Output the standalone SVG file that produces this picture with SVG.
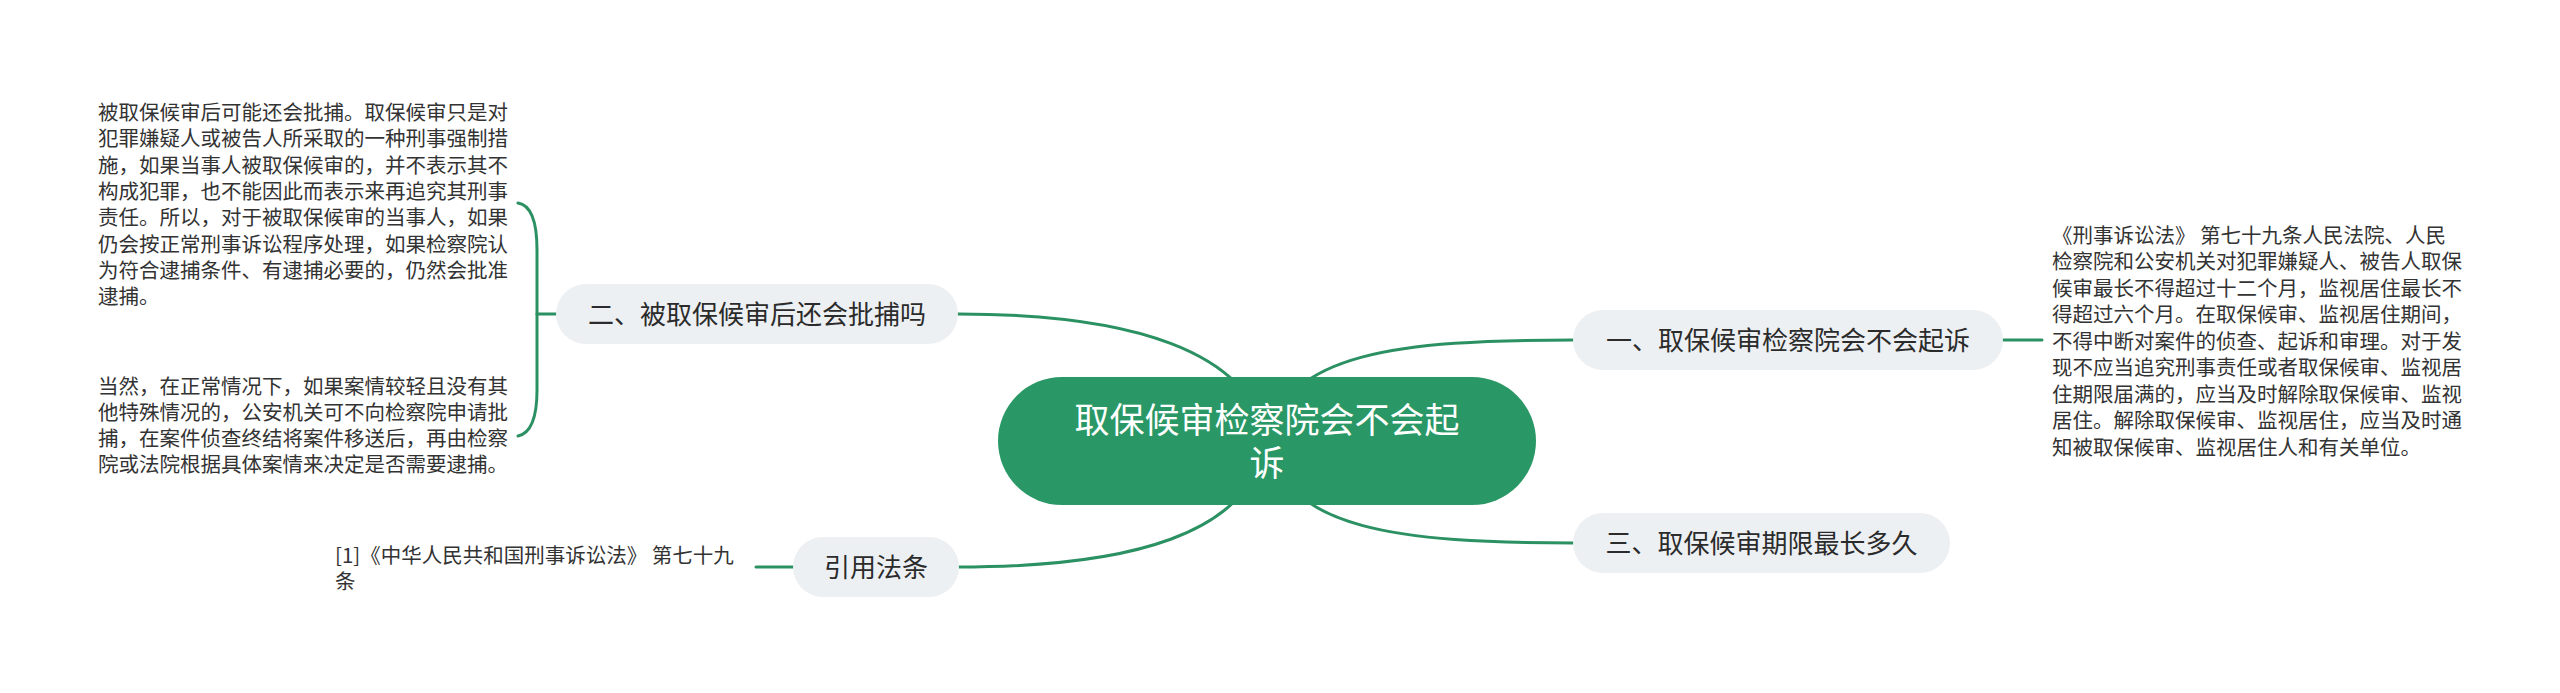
<svg xmlns="http://www.w3.org/2000/svg" width="2560" height="693" viewBox="0 0 2560 693">
<style>
.bg{fill:#ffffff}
.conn{fill:none;stroke:#2b9163;stroke-width:3;stroke-linecap:round}
.sub{fill:#edf0f3}
.subt{font-family:"Noto Sans CJK SC","Noto Sans",sans-serif;font-size:26px;fill:#2b2b2b;text-anchor:middle}
.body{font-family:"Noto Sans CJK SC","Noto Sans",sans-serif;font-size:20.5px;fill:#333333}
.root{fill:#2a9866}
.roott{font-family:"Noto Sans CJK SC","Noto Sans",sans-serif;font-size:35px;fill:#ffffff;text-anchor:middle}
</style>
<rect class="bg" x="0" y="0" width="2560" height="693"/>
<g id="connectors">
<path class="conn" d="M1267,441 C1250,350 1130,314 958,314"/>
<path class="conn" d="M1267,441 C1285,352 1400,340 1573,340"/>
<path class="conn" d="M1267,441 C1285,530 1400,543 1573,543"/>
<path class="conn" d="M1267,441 C1250,535 1130,567 958,567"/>
<path class="conn" d="M556,314 L537,314"/>
<path class="conn" d="M518,203 Q537,206 537,250 L537,390 Q537,432 518,436"/>
<path class="conn" d="M793,567 L756,567"/>
<path class="conn" d="M2003,340 L2042,340"/>
</g>
<g id="root">
<rect class="root" x="998" y="377" width="538" height="128" rx="64" ry="64"/>
<text class="roott"><tspan x="1267" y="432.5">取保候审检察院会不会起</tspan><tspan x="1267" y="475.5">诉</tspan></text>
</g>
<g id="node-2">
<rect class="sub" x="556" y="284" width="402" height="60" rx="30" ry="30"/>
<text class="subt" x="757" y="323.5">二、被取保候审后还会批捕吗</text>
</g>
<g id="node-2-text1">
<text class="body"><tspan x="98" y="120">被取保候审后可能还会批捕。取保候审只是对</tspan><tspan x="98" y="146">犯罪嫌疑人或被告人所采取的一种刑事强制措</tspan><tspan x="98" y="173">施，如果当事人被取保候审的，并不表示其不</tspan><tspan x="98" y="199">构成犯罪，也不能因此而表示来再追究其刑事</tspan><tspan x="98" y="225">责任。所以，对于被取保候审的当事人，如果</tspan><tspan x="98" y="252">仍会按正常刑事诉讼程序处理，如果检察院认</tspan><tspan x="98" y="278">为符合逮捕条件、有逮捕必要的，仍然会批准</tspan><tspan x="98" y="304">逮捕。</tspan></text>
</g>
<g id="node-2-text2">
<text class="body"><tspan x="98" y="394">当然，在正常情况下，如果案情较轻且没有其</tspan><tspan x="98" y="420">他特殊情况的，公安机关可不向检察院申请批</tspan><tspan x="98" y="446">捕，在案件侦查终结将案件移送后，再由检察</tspan><tspan x="98" y="472">院或法院根据具体案情来决定是否需要逮捕。</tspan></text>
</g>
<g id="node-ref">
<rect class="sub" x="793" y="537" width="166" height="60" rx="30" ry="30"/>
<text class="subt" x="876" y="576.5">引用法条</text>
</g>
<g id="node-ref-text">
<text class="body"><tspan x="335" y="562.5">[1]《中华人民共和国刑事诉讼法》 第七十九</tspan><tspan x="335" y="588.5">条</tspan></text>
</g>
<g id="node-1">
<rect class="sub" x="1573" y="310" width="430" height="60" rx="30" ry="30"/>
<text class="subt" x="1788" y="349.5">一、取保候审检察院会不会起诉</text>
</g>
<g id="node-1-text">
<text class="body"><tspan x="2052" y="242.5">《刑事诉讼法》 第七十九条人民法院、人民</tspan><tspan x="2052" y="269">检察院和公安机关对犯罪嫌疑人、被告人取保</tspan><tspan x="2052" y="295.5">候审最长不得超过十二个月，监视居住最长不</tspan><tspan x="2052" y="322">得超过六个月。在取保候审、监视居住期间，</tspan><tspan x="2052" y="348.5">不得中断对案件的侦查、起诉和审理。对于发</tspan><tspan x="2052" y="375">现不应当追究刑事责任或者取保候审、监视居</tspan><tspan x="2052" y="401.5">住期限届满的，应当及时解除取保候审、监视</tspan><tspan x="2052" y="428">居住。解除取保候审、监视居住，应当及时通</tspan><tspan x="2052" y="454.5">知被取保候审、监视居住人和有关单位。</tspan></text>
</g>
<g id="node-3">
<rect class="sub" x="1573" y="513" width="377" height="60" rx="30" ry="30"/>
<text class="subt" x="1761.5" y="552.5">三、取保候审期限最长多久</text>
</g>
</svg>
